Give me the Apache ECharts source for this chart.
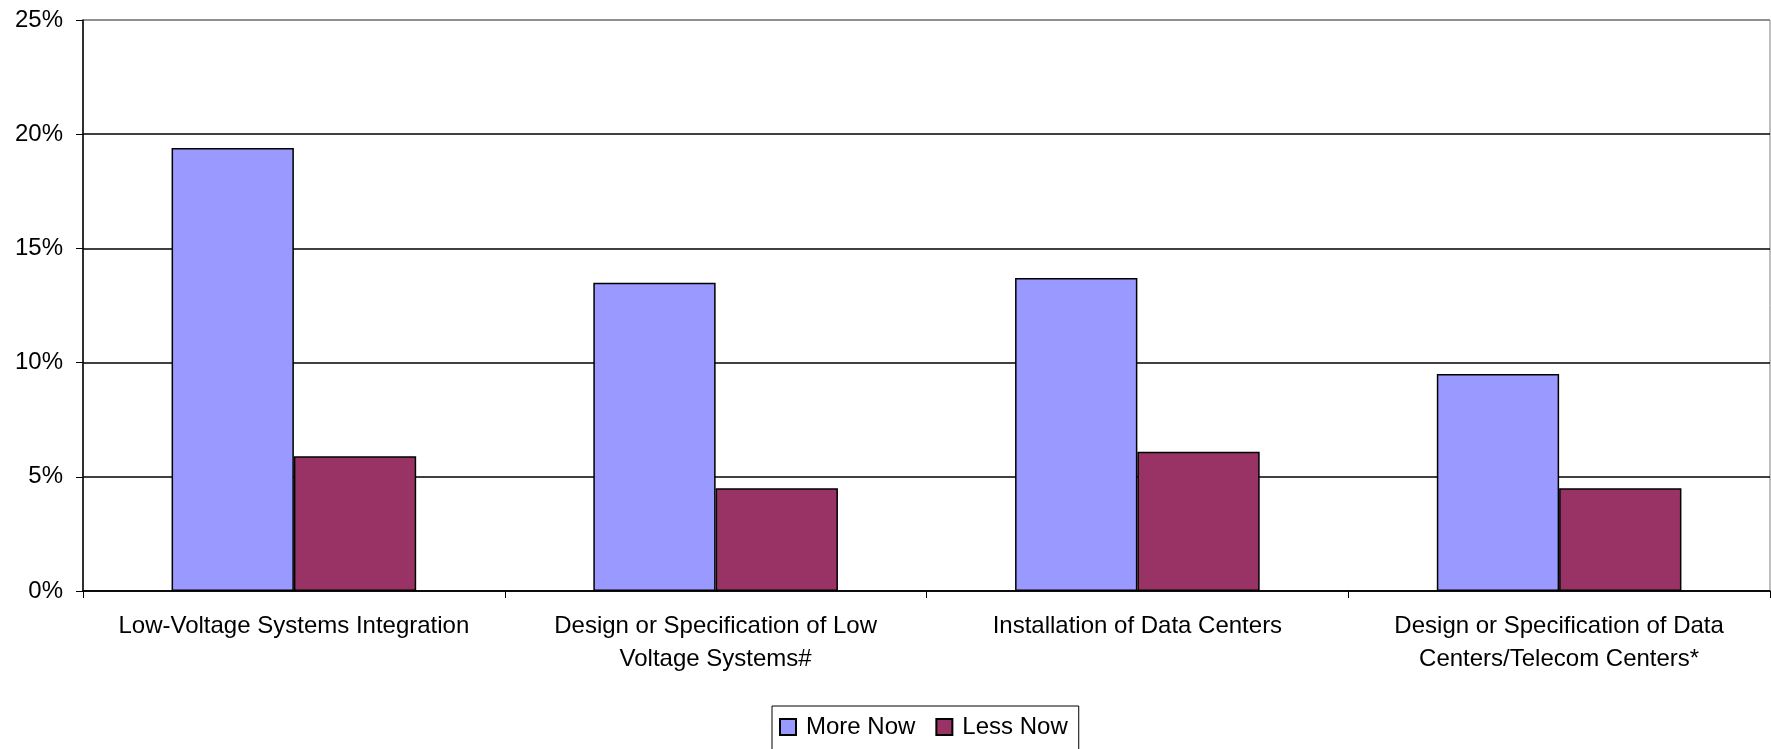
<!DOCTYPE html>
<html>
<head>
<meta charset="utf-8">
<script src="https://cdn.jsdelivr.net/npm/echarts@6/dist/echarts.min.js"></script>
<style>
  html, body { margin: 0; padding: 0; background: #ffffff; }
  #chart { width: 1771px; height: 749px; }
</style>
</head>
<body>
<div id="chart"></div>
<script>
// Work areas surveyed
const categories = [
  'Low-Voltage Systems Integration',
  'Design or Specification of Low\nVoltage Systems#',
  'Installation of Data Centers',
  'Design or Specification of Data\nCenters/Telecom Centers*'
];
// Share of respondents (%)
const moreNow = [19.4, 13.5, 13.7, 9.5];
const lessNow = [5.9, 4.5, 6.1, 4.5];
const seriesNames = ['More Now', 'Less Now'];

const FONT = '"Liberation Sans", Arial, sans-serif';

const chart = echarts.init(document.getElementById('chart'), null, { renderer: 'canvas' });

chart.setOption({
  backgroundColor: '#ffffff',
  animation: false,
  grid: {
    left: 83, right: 1, top: 20, bottom: 158,
    show: true, borderColor: '#808080', borderWidth: 1
  },
  legend: {
    data: seriesNames,
    top: 706,
    left: 772,
    orient: 'horizontal',
    itemWidth: 16,
    itemHeight: 16,
    itemGap: 20,
    padding: [9, 11, 11, 7],
    borderColor: '#000000',
    borderWidth: 1,
    backgroundColor: '#ffffff',
    textStyle: { fontFamily: FONT, fontSize: 24, color: '#000000', padding: [0, 0, 0, 5] },
    icon: 'rect'
  },
  xAxis: {
    type: 'category',
    data: categories,
    axisLine: { show: true, lineStyle: { color: '#000000', width: 1.5 } },
    axisTick: { show: true, length: 7, lineStyle: { color: '#000000', width: 1 } },
    axisLabel: {
      interval: 0,
      margin: 19,
      fontFamily: FONT,
      fontSize: 24,
      lineHeight: 33,
      color: '#000000',
      align: 'center'
    },
    splitLine: { show: false }
  },
  yAxis: {
    type: 'value',
    min: 0,
    max: 25,
    interval: 5,
    axisLine: { show: true, lineStyle: { color: '#000000', width: 1.5 } },
    axisTick: { show: true, length: 7, lineStyle: { color: '#000000', width: 1 } },
    axisLabel: {
      formatter: '{value}%',
      margin: 20,
      fontFamily: FONT,
      fontSize: 24,
      color: '#000000'
    },
    splitLine: {
      show: true,
      lineStyle: {
        color: ['#000000', '#000000', '#000000', '#000000', '#000000', '#808080'],
        width: 1.5
      }
    }
  },
  series: [
    {
      name: seriesNames[0],
      type: 'bar',
      data: moreNow,
      barGap: '0%',
      barCategoryGap: '42%',
      itemStyle: { color: '#9999FF', borderColor: '#000000', borderWidth: 1.5 }
    },
    {
      name: seriesNames[1],
      type: 'bar',
      data: lessNow,
      barGap: '0%',
      barCategoryGap: '42%',
      itemStyle: { color: '#993366', borderColor: '#000000', borderWidth: 1.5 }
    }
  ]
});
</script>
</body>
</html>
